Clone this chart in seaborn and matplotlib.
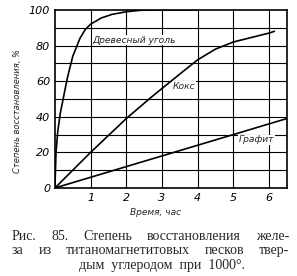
import matplotlib
matplotlib.use("Agg")
import matplotlib.pyplot as plt
import seaborn as sns
import pandas as pd

# Data
wood_t = [0, 0.03, 0.08, 0.15, 0.25, 0.35, 0.5, 0.7, 0.85, 1.0, 1.3, 1.6, 2.0, 2.4, 3.0, 4.0]
wood_v = [0, 20, 32, 42, 52, 62, 74, 84, 89, 92, 95.5, 97.5, 99, 99.8, 100, 100]
coke_t = [0, 1, 2, 2.7, 3.5, 4.0, 4.5, 5.0, 5.5, 6.0, 6.15]
coke_v = [0, 20, 39, 51, 64, 72, 78, 82, 84.5, 87, 88]
graph_t = [0, 6.5]
graph_v = [0, 39]

x_ticks = [1, 2, 3, 4, 5, 6]
y_ticks = [0, 20, 40, 60, 80, 100]
labels = ["Древесный уголь", "Кокс", "Графит"]
caption = [
    "Рис. 85. Степень восстановления желе-",
    "за из титаномагнетитовых песков твер-",
    "дым углеродом при 1000°.",
]

df = pd.concat([
    pd.DataFrame({"t": wood_t, "v": wood_v, "s": labels[0]}),
    pd.DataFrame({"t": coke_t, "v": coke_v, "s": labels[1]}),
    pd.DataFrame({"t": graph_t, "v": graph_v, "s": labels[2]}),
])

sns.set_style("white")
plt.rcParams["font.family"] = ["DejaVu Sans"]

fig = plt.figure(figsize=(2.97, 2.76), dpi=100)
ax = fig.add_axes([0.185, 0.319, 0.781, 0.645])

sns.lineplot(data=df, x="t", y="v", units="s", estimator=None, color="black",
             linewidth=1.2, ax=ax, legend=False, sort=False)

ax.set_xlim(0, 6.5)
ax.set_ylim(0, 100)
ax.set_xticks([0] + x_ticks)
ax.set_xticklabels([""] + [str(v) for v in x_ticks])
ax.set_yticks(y_ticks)
for y in range(10, 100, 10):
    ax.axhline(y, color="black", linewidth=0.8)
for x in x_ticks:
    ax.axvline(x, color="black", linewidth=0.8)
for sp in ax.spines.values():
    sp.set_color("black")
    sp.set_linewidth(1.2)
ax.tick_params(axis="both", which="major", length=2, width=0.8, labelsize=8, pad=1.5, colors="black")
for lbl in ax.get_xticklabels() + ax.get_yticklabels():
    lbl.set_fontstyle("italic")

ax.set_xlabel("Время, час", fontsize=6.5, style="italic", labelpad=5)
ax.xaxis.set_label_coords(0.435, -0.11)
ax.set_ylabel("Степень восстановления, %", fontsize=6.0, style="italic", labelpad=5)
ax.yaxis.set_label_coords(-0.142, 0.43)

box = dict(facecolor="white", edgecolor="none", pad=0.5)
ax.text(1.05, 83, labels[0], fontsize=6.6, style="italic", ha="left", va="center", bbox=box)
ax.text(3.3, 57, labels[1], fontsize=6.6, style="italic", ha="left", va="center", bbox=box)
ax.text(5.15, 27, labels[2], fontsize=6.6, style="italic", ha="left", va="center", bbox=box)

# Caption: two justified lines and a centred last line
cap_font = dict(fontsize=10, family="Liberation Serif")
fig.canvas.draw()
renderer = fig.canvas.get_renderer()
W = fig.bbox.width
x0, x1 = 12.0, 289.0
ys = [276 - 236, 276 - 250.5, 276 - 265]
for i, line in enumerate(caption[:2]):
    words = line.split(" ")
    widths = []
    for w in words:
        t = fig.text(0, 0, w, **cap_font)
        widths.append(t.get_window_extent(renderer).width)
        t.remove()
    gap = (x1 - x0 - sum(widths)) / (len(words) - 1)
    xp = x0
    for w, wd in zip(words, widths):
        fig.text(xp / W, ys[i] / 276, w, va="center", ha="left", **cap_font)
        xp += wd + gap
fig.text(162 / W, ys[2] / 276, caption[2].replace(" ", "  "), va="center", ha="center", **cap_font)

fig.savefig("out.png", dpi=100)
